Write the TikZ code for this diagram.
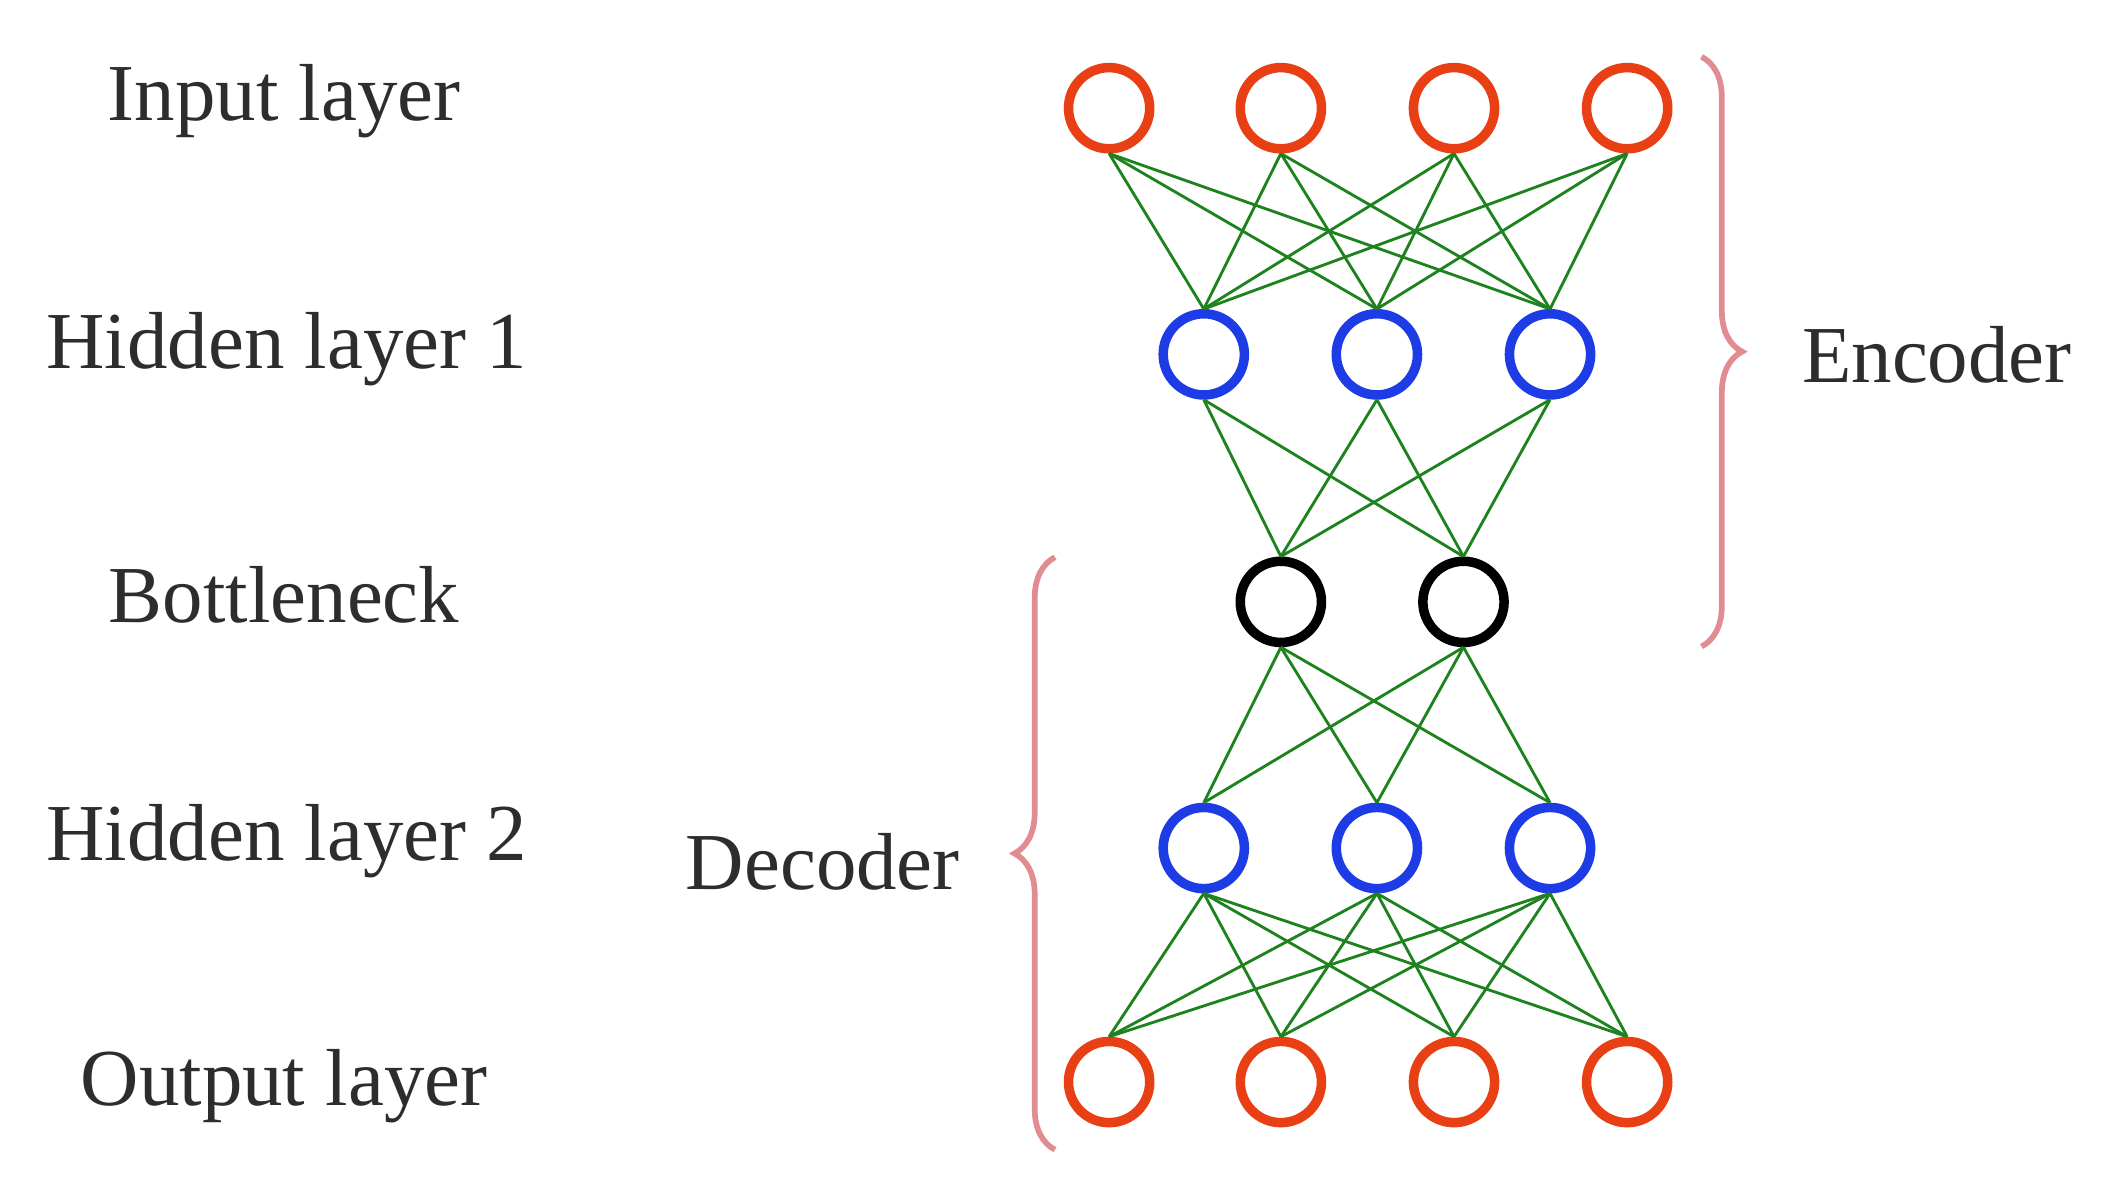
\documentclass[tikz,border=0pt]{standalone}
\usepackage{fontspec}
\setmainfont{Liberation Serif}
\usetikzlibrary{decorations.pathreplacing}
\definecolor{inred}{RGB}{232,64,20}
\definecolor{hidblue}{RGB}{30,60,230}
\definecolor{edge}{RGB}{30,130,30}
\definecolor{brc}{RGB}{225,140,145}
\definecolor{txt}{RGB}{45,45,45}
\begin{document}
\begin{tikzpicture}[x=0.01cm,y=-0.01cm,
 neuron/.style={circle,draw,line width=2pt,minimum size=0.6cm,inner sep=0pt},
 io/.style={neuron,draw=inred},
 hid/.style={neuron,draw=hidblue},
 bot/.style={neuron,draw=black},
 conn/.style={draw=edge,line width=0.6pt},
 lab/.style={text=txt,font=\fontsize{17}{20}\selectfont},
 br/.style={draw=brc,line width=1.2pt,decorate,decoration={brace,amplitude=0.3cm}}]
\useasboundingbox (0,0) rectangle (1560,880);
\foreach \i/\x in {1/820,2/947,3/1075,4/1203}{
  \node[io] (i\i) at (\x,80) {};
  \node[io] (o\i) at (\x,800) {};}
\foreach \i/\x in {1/890,2/1018,3/1146}{
  \node[hid] (h\i) at (\x,262) {};
  \node[hid] (g\i) at (\x,627) {};}
\node[bot] (b1) at (947,445) {};
\node[bot] (b2) at (1082,445) {};
\foreach \a in {1,...,4}\foreach \b in {1,2,3}{
  \draw[conn] (i\a.south) -- (h\b.north);
  \draw[conn] (g\b.south) -- (o\a.north);}
\foreach \a in {1,2,3}\foreach \b in {1,2}{
  \draw[conn] (h\a.south) -- (b\b.north);
  \draw[conn] (b\b.south) -- (g\a.north);}
\node[lab] (l1) at (210,75) {Input layer};
\node[lab] (l2) at (212,258) {Hidden layer 1};
\node[lab] (l3) at (210,440) {Bottleneck};
\node[lab] (l4) at (212,622) {Hidden layer 2};
\node[lab] (l5) at (210,803) {Output layer};
\coordinate (e1) at (1258,42);
\coordinate (e2) at (1258,478);
\draw[br] (e1) -- (e2);
\node[lab,anchor=west] (enc) at (1320,262) {Encoder};
\coordinate (d1) at (780,850);
\coordinate (d2) at (780,412);
\draw[br] (d1) -- (d2);
\node[lab,anchor=east] (dec) at (722,637) {Decoder};
\end{tikzpicture}
\end{document}
